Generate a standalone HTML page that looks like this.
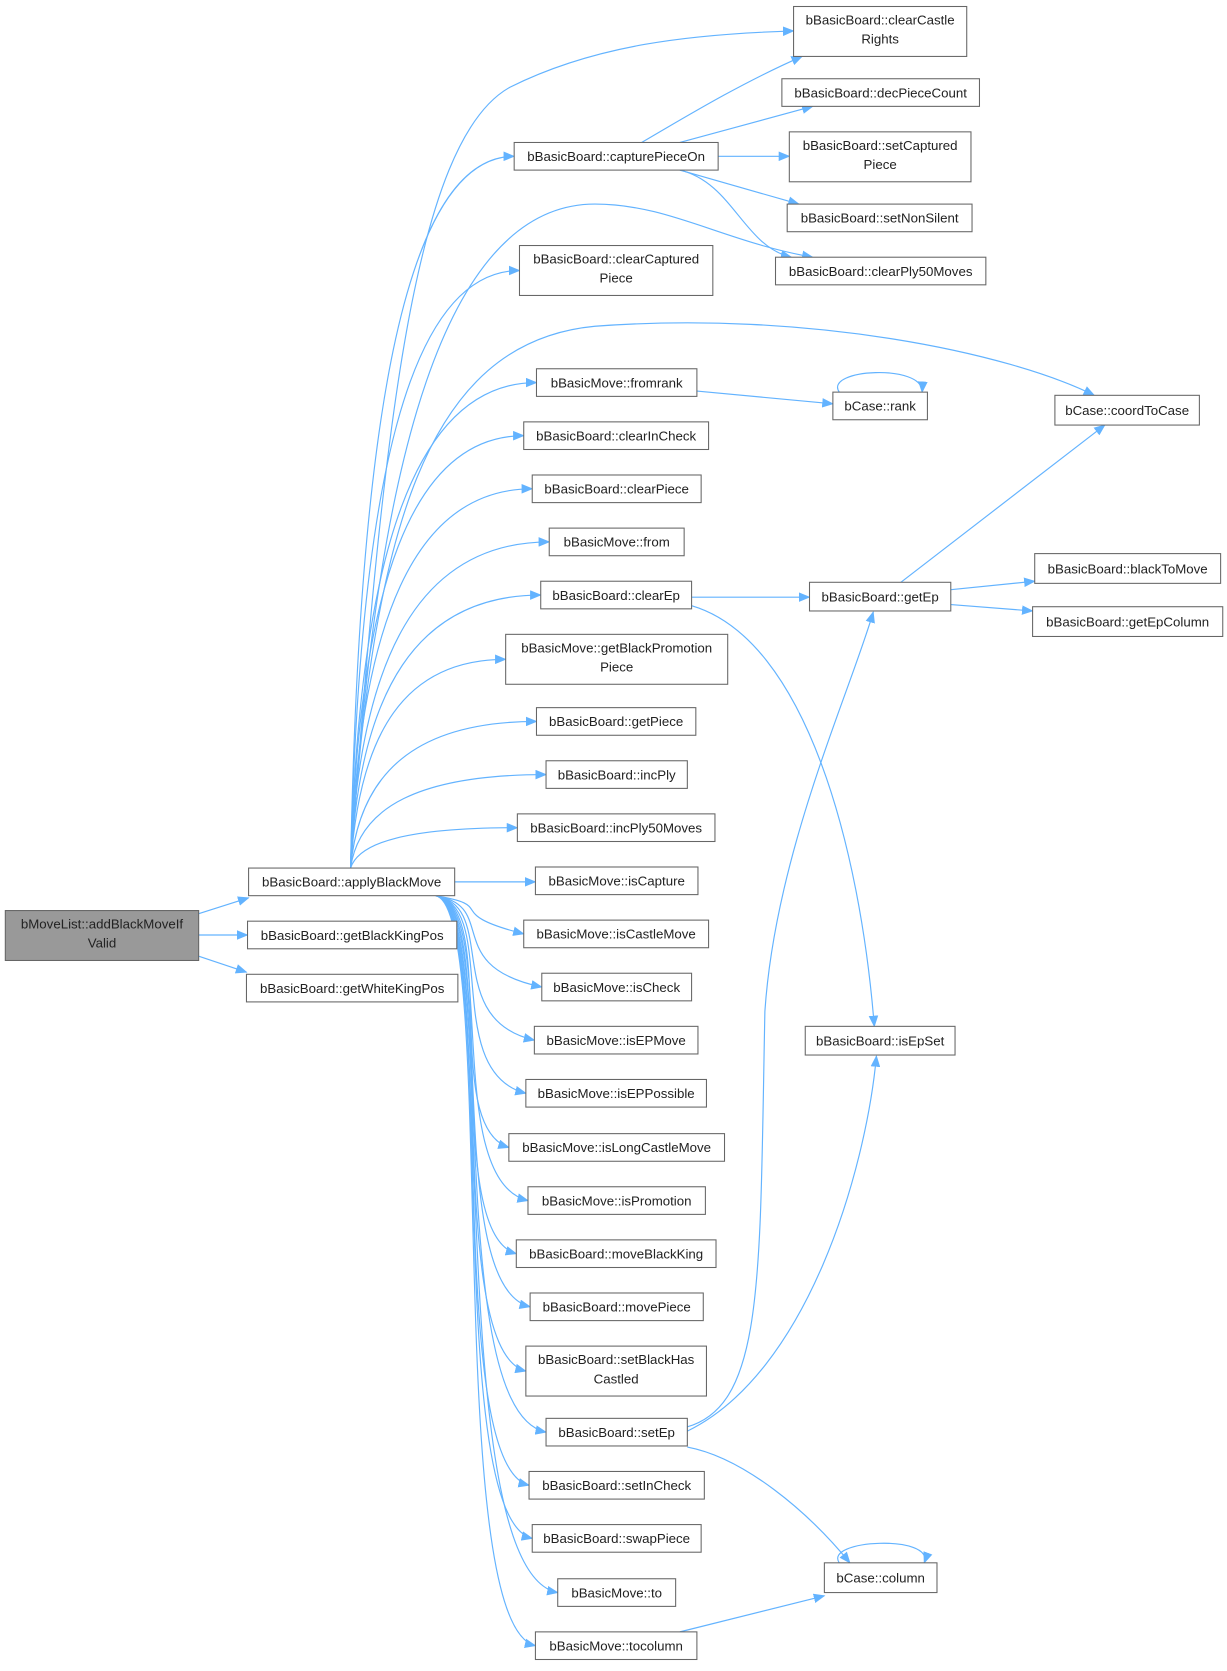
<!DOCTYPE html>
<html><head><meta charset="utf-8"><style>
html,body{margin:0;padding:0;background:#fff}
svg text{font-family:"Liberation Sans","DejaVu Sans",sans-serif;font-size:12.5px;fill:#222}
</style></head><body>
<svg id="s" width="1227" height="1666" viewBox="0 -2 1155 1568" xmlns="http://www.w3.org/2000/svg">
<defs><marker id="a" markerWidth="11" markerHeight="9" refX="10" refY="4.5" orient="auto" markerUnits="userSpaceOnUse"><polygon points="0,0 11,4.5 0,9" fill="#63b3ff"/></marker></defs>
<g id="e" fill="none" stroke="#63b3ff" stroke-width="1.1"></g>
<g id="n"></g>
</svg>
<script>
var N=[
[5,855,182,47,"bMoveList::addBlackMoveIf","Valid",1],
[234,815,194,26,"bBasicBoard::applyBlackMove"],
[233,865,197,26,"bBasicBoard::getBlackKingPos"],
[232,915,199,26,"bBasicBoard::getWhiteKingPos"],
[484,132,192,26,"bBasicBoard::capturePieceOn"],
[489,229,182,47,"bBasicBoard::clearCaptured","Piece"],
[505,345,151,26,"bBasicMove::fromrank"],
[493,395,174,26,"bBasicBoard::clearInCheck"],
[501,445,159,26,"bBasicBoard::clearPiece"],
[517,495,127,26,"bBasicMove::from"],
[509,545,142,26,"bBasicBoard::clearEp"],
[476,595,209,47,"bBasicMove::getBlackPromotion","Piece"],
[505,664,150,26,"bBasicBoard::getPiece"],
[514,714,133,26,"bBasicBoard::incPly"],
[487,764,186,26,"bBasicBoard::incPly50Moves"],
[504,814,153,26,"bBasicMove::isCapture"],
[493,864,174,26,"bBasicMove::isCastleMove"],
[510,914,141,26,"bBasicMove::isCheck"],
[503,964,154,26,"bBasicMove::isEPMove"],
[495,1014,170,26,"bBasicMove::isEPPossible"],
[479,1065,203,26,"bBasicMove::isLongCastleMove"],
[497,1115,167,26,"bBasicMove::isPromotion"],
[486,1165,188,26,"bBasicBoard::moveBlackKing"],
[499,1215,163,26,"bBasicBoard::movePiece"],
[495,1265,170,47,"bBasicBoard::setBlackHas","Castled"],
[514,1333,133,26,"bBasicBoard::setEp"],
[498,1383,165,26,"bBasicBoard::setInCheck"],
[501,1433,159,26,"bBasicBoard::swapPiece"],
[525,1484,111,26,"bBasicMove::to"],
[504,1534,152,26,"bBasicMove::tocolumn"],
[747,4,163,47,"bBasicBoard::clearCastle","Rights"],
[736,72,186,26,"bBasicBoard::decPieceCount"],
[743,122,171,47,"bBasicBoard::setCaptured","Piece"],
[741,190,174,26,"bBasicBoard::setNonSilent"],
[730,240,198,26,"bBasicBoard::clearPly50Moves"],
[784,367,89,26,"bCase::rank"],
[762,546,133,27,"bBasicBoard::getEp"],
[758,964,141,27,"bBasicBoard::isEpSet"],
[776,1469,106,28,"bCase::column"],
[993,370,136,28,"bCase::coordToCase"],
[974,519,175,28,"bBasicBoard::blackToMove"],
[972,569,179,28,"bBasicBoard::getEpColumn"]
];
var ns="http://www.w3.org/2000/svg",g=document.getElementById('n'),eg=document.getElementById('e');
function el(t,a,p){var x=document.createElementNS(ns,t);for(var k in a)x.setAttribute(k,a[k]);p.appendChild(x);return x;}
N.forEach(function(d){
 el('rect',{x:d[0],y:d[1],width:d[2],height:d[3],fill:d[6]?'#999':'#fff',stroke:'#666','stroke-width':1},g);
 var cx=d[0]+d[2]/2;
 if(d[5]){var t=el('text',{x:cx,y:d[1]+17,'text-anchor':'middle'},g);t.textContent=d[4];
  var t2=el('text',{x:cx,y:d[1]+35,'text-anchor':'middle'},g);t2.textContent=d[5];}
 else{var t=el('text',{x:cx,y:d[1]+d[3]/2+4.5,'text-anchor':'middle'},g);t.textContent=d[4];}
});
function P(d){el('path',{d:d,'marker-end':'url(#a)'},eg);}
for(var i=4;i<30;i++){var d=N[i];var ex=d[0],ey=d[1]+d[3]/2;
 if(ey<815){var sx=330,sy=815;
  P('M'+sx+','+sy+' C'+(sx+8)+','+(ey+(sy-ey)*0.35)+' '+(sx+(ex-sx)*0.35)+','+ey+' '+ex+','+ey);}
 else if(Math.abs(ey-828)<5){P('M428,828 L'+ex+',828');}
 else{var sx=410,sy=841;
  P('M'+sx+','+sy+' C'+(sx+60)+','+(sy+10)+' '+(sx+5)+','+(ey-20)+' '+ex+','+ey);}
}
P('M187,858 L234,843');P('M187,878 L233,878');P('M187,898 L232,913');
P('M330,815 C360,400 390,130 480,80 C560,40 650,30 747,27');
P('M330,815 C350,500 400,190 560,190 C630,190 680,225 765,240');
P('M330,815 C350,500 400,320 560,305 C760,290 950,330 1030,370');
P('M604,132 C650,105 700,75 755,51');
P('M640,132 L765,98');P('M676,145 L743,145');P('M640,158 L752,190');
P('M640,158 C690,170 700,230 745,240');
P('M656,366 L784,378');
P('M790,367 C775,345 870,340 868,367');
P('M651,560 L762,560');
P('M651,568 C760,600 810,800 823,964');
P('M848,546 L1040,398');P('M895,553 L974,545');P('M895,567 L972,573');
P('M647,1341 C720,1320 715,1200 720,950 C730,800 800,650 822,574');
P('M647,1345 C760,1290 815,1100 825,992');
P('M647,1360 C700,1370 760,1420 800,1469');
P('M790,1469 C775,1447 880,1442 870,1469');
P('M640,1534 L776,1500');
</script>
</body></html>
